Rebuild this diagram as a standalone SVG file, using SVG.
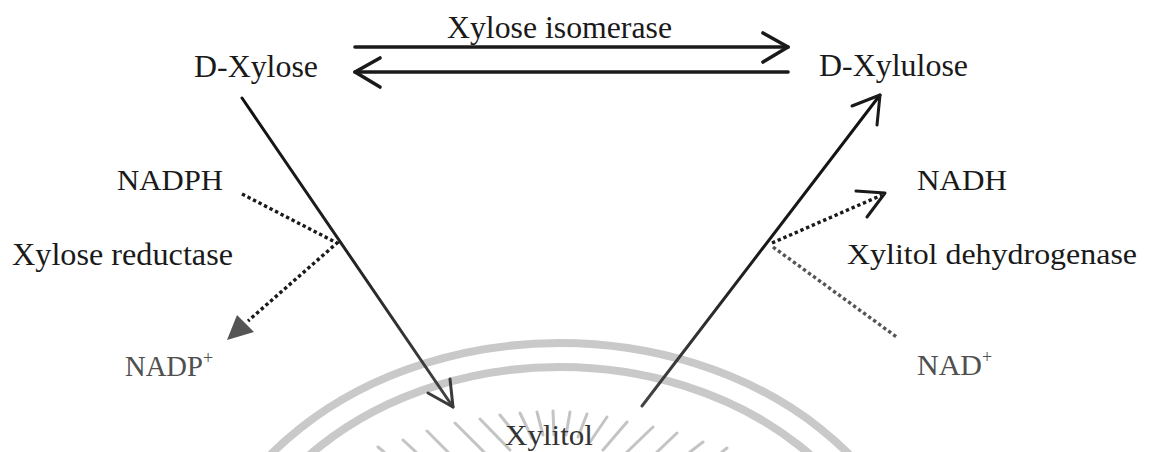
<svg xmlns="http://www.w3.org/2000/svg" width="1149" height="452" viewBox="0 0 1149 452">
<defs>
<style>
text{font-family:"Liberation Serif","Times New Roman",Times,serif;fill:#1a1a1a}
.gray{fill:#505050}
.solid{stroke:#1a1a1a;stroke-width:3;fill:none;stroke-linecap:round;stroke-linejoin:round}
.thick{stroke:#1a1a1a;stroke-width:3.6;fill:none;stroke-linecap:round;stroke-linejoin:round}
.dot{stroke:#1a1a1a;stroke-width:3.4;fill:none;stroke-dasharray:3.4 2.8}
.dotg{stroke:#555;stroke-width:3.4;fill:none;stroke-dasharray:3.4 2.8}
.wm{stroke:#c9c9c9;stroke-width:8;fill:none}
.ray{stroke:#c4c4c4;stroke-width:3;stroke-linecap:round}
</style>
<linearGradient id="gl" gradientUnits="userSpaceOnUse" x1="242" y1="98" x2="453" y2="407">
<stop offset="0" stop-color="#111"/><stop offset="0.5" stop-color="#222"/><stop offset="1" stop-color="#444"/>
</linearGradient>
<linearGradient id="gr" gradientUnits="userSpaceOnUse" x1="642" y1="406" x2="880" y2="95">
<stop offset="0" stop-color="#444"/><stop offset="0.5" stop-color="#1a1a1a"/><stop offset="1" stop-color="#111"/>
</linearGradient>
</defs>
<rect width="1149" height="452" fill="#fff"/>
<g id="watermark">
<ellipse class="wm" cx="560" cy="635" rx="368" ry="292"/>
<ellipse class="wm" cx="560" cy="635" rx="338" ry="268"/>
<line class="ray" x1="378" y1="447" x2="384" y2="452"/>
<line class="ray" x1="403" y1="440" x2="416" y2="452"/>
<line class="ray" x1="427" y1="431" x2="448" y2="452"/>
<line class="ray" x1="455" y1="423" x2="484" y2="452"/>
<line class="ray" x1="480" y1="419" x2="510" y2="450"/>
<line class="ray" x1="500" y1="415" x2="520" y2="440"/>
<line class="ray" x1="520" y1="413" x2="532" y2="438"/>
<line class="ray" x1="537" y1="412" x2="543" y2="435"/>
<line class="ray" x1="553" y1="411" x2="554" y2="435"/>
<line class="ray" x1="570" y1="412" x2="566" y2="435"/>
<line class="ray" x1="587" y1="414" x2="578" y2="437"/>
<line class="ray" x1="607" y1="417" x2="590" y2="442"/>
<line class="ray" x1="627" y1="422" x2="603" y2="450"/>
<line class="ray" x1="653" y1="427" x2="627" y2="452"/>
<line class="ray" x1="677" y1="433" x2="657" y2="452"/>
<line class="ray" x1="703" y1="442" x2="690" y2="452"/>
<line class="ray" x1="727" y1="448" x2="722" y2="452"/>
</g>
<g id="connectors">
<line class="thick" x1="355" y1="47" x2="788" y2="47"/>
<polyline class="thick" points="763,33 788,47 763,62"/>
<line class="thick" x1="355" y1="72" x2="788" y2="72"/>
<polyline class="thick" points="380,58 355,72 380,87"/>
<line class="solid" x1="242" y1="98" x2="453" y2="407" style="stroke:url(#gl)"/>
<polyline class="solid" points="428,393 453,407 450,379" style="stroke:#3a3a3a"/>
<line class="solid" x1="642" y1="406" x2="880" y2="95" style="stroke:url(#gr)"/>
<polyline class="solid" points="852,106 880,95 877,125"/>
<polyline class="dot" points="242,194 337,243 248,321"/>
<polygon points="227,340 237,315 254,332" fill="#555"/>
<line class="dot" x1="772" y1="243" x2="882" y2="195"/>
<polyline class="solid" points="856,191 885,193 867,217"/>
<line class="dotg" x1="773" y1="247" x2="898" y2="338"/>
</g>
<g id="label-isomerase"><text x="447" y="38" font-size="31" textLength="225" lengthAdjust="spacingAndGlyphs">Xylose isomerase</text></g>
<g id="node-dxylose"><text x="194" y="77" font-size="31" textLength="124" lengthAdjust="spacingAndGlyphs">D-Xylose</text></g>
<g id="node-dxylulose"><text x="819" y="76" font-size="32" textLength="149" lengthAdjust="spacingAndGlyphs">D-Xylulose</text></g>
<g id="node-nadph"><text x="117" y="190" font-size="30" textLength="106" lengthAdjust="spacingAndGlyphs">NADPH</text></g>
<g id="label-reductase"><text x="12" y="265" font-size="31" textLength="221" lengthAdjust="spacingAndGlyphs">Xylose reductase</text></g>
<g id="node-nadp"><text class="gray" x="125" y="376" font-size="29"><tspan textLength="78" lengthAdjust="spacingAndGlyphs">NADP</tspan><tspan font-size="18" dy="-12">+</tspan></text></g>
<g id="node-nadh"><text x="917" y="190" font-size="30" textLength="90" lengthAdjust="spacingAndGlyphs">NADH</text></g>
<g id="label-dehydrogenase"><text x="847" y="264" font-size="30" textLength="290" lengthAdjust="spacingAndGlyphs">Xylitol dehydrogenase</text></g>
<g id="node-nad"><text class="gray" x="917" y="375" font-size="30"><tspan textLength="65" lengthAdjust="spacingAndGlyphs">NAD</tspan><tspan font-size="18" dy="-12">+</tspan></text></g>
<g id="node-xylitol"><text x="505" y="445" font-size="30" style="fill:#333" textLength="88" lengthAdjust="spacingAndGlyphs">Xylitol</text></g>
</svg>
